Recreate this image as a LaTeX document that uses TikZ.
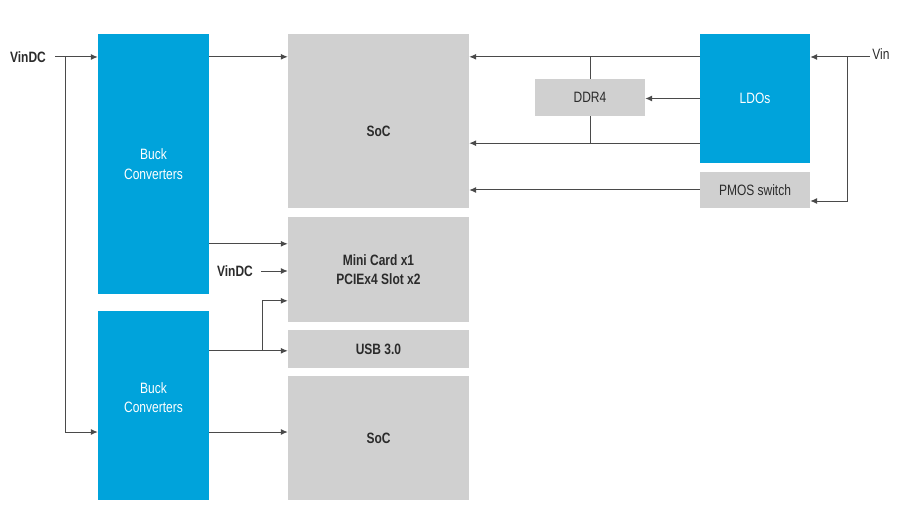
\documentclass[tikz,border=0pt]{standalone}
\usepackage{fontspec}
\setmainfont{Liberation Sans}[FakeStretch=0.8]
\usetikzlibrary{arrows.meta}
\definecolor{buckblue}{HTML}{00A3DB}
\definecolor{boxgray}{HTML}{D0D0D0}
\definecolor{wiregray}{HTML}{4A4A4A}
\definecolor{inkgray}{HTML}{2B2B2B}
\tikzset{
  bluebox/.style={rectangle, fill=buckblue, text=white, align=center, inner sep=0pt},
  graybox/.style={rectangle, fill=boxgray, text=inkgray, align=center, inner sep=0pt},
  sig/.style={inkgray, inner sep=2pt}
}
\begin{document}
\begin{tikzpicture}[x=1pt, y=-1pt, >={Latex[length=7pt,width=6pt]},
   every node/.style={font=\fontsize{15}{19.5}\selectfont},
   wire/.style={draw=wiregray, line width=1pt}
   ]
   \useasboundingbox (0,0) rectangle (900,532);

   % power stages
   \path (153.5,164) node[bluebox, minimum width=111pt, minimum height=260pt] (buckA) {Buck\\Converters}
   (153.5,405.5) node[bluebox, minimum width=111pt, minimum height=189pt,
      label={[text=white, align=center, yshift=8pt]center:Buck\\Converters}] (buckB) {};
   \path (755,98.5) node[bluebox, minimum width=110pt, minimum height=129pt] (ldo) {LDOs}
   (755,190) node[graybox, minimum width=110pt, minimum height=36pt] (pmos) {PMOS switch};

   % loads
   \path (378.5,121) node[graybox, minimum width=181pt, minimum height=174pt,
      label={[text=inkgray, yshift=-10pt, font=\fontsize{15}{19.5}\selectfont\bfseries]center:SoC}] (socA) {}
   (378.5,269.5) node[graybox, minimum width=181pt, minimum height=105pt, font=\fontsize{15}{19.5}\selectfont\bfseries] (mini) {Mini Card x1\\PCIEx4 Slot x2}
   (378.5,349) node[graybox, minimum width=181pt, minimum height=38pt, font=\fontsize{15}{19.5}\selectfont\bfseries] (usb) {USB 3.0}
   (378.5,438) node[graybox, minimum width=181pt, minimum height=124pt, font=\fontsize{15}{19.5}\selectfont\bfseries] (socB) {SoC};
   \path (590,97.5) node[graybox, minimum width=110pt, minimum height=37pt] (ddr) {DDR4};

   % inputs
   \path (28,57) node[sig, font=\fontsize{15}{19.5}\selectfont\bfseries] (vindcA) {VinDC}
   (235,271) node[sig, font=\fontsize{15}{19.5}\selectfont\bfseries] (vindcB) {VinDC}
   (881,54) node[sig] (vin) {Vin};

   % left side
   \draw[wire, ->] ([xshift=7pt]vindcA.east) -- (vindcA -| buckA.west);
   \draw[wire, ->] ([xshift=17pt]vindcA.east) |- ([yshift=-26.5pt]buckB.west);
   \draw[wire, ->] ([yshift=-23pt]buckA.north east) coordinate (bA1) -- (bA1 -| socA.west);
   \draw[wire, ->] ([yshift=-210pt]buckA.north east) coordinate (bA2) -- (bA2 -| mini.west);
   \draw[wire, ->] ([xshift=6pt]vindcB.east) -- (vindcB -| mini.west);
   \draw[wire, ->] ([yshift=-40pt]buckB.north east) coordinate (bB1) -- (bB1 -| usb.west);
   \draw[wire, ->] ([xshift=53pt]bB1) |- ([yshift=-84pt]mini.north west);
   \draw[wire, ->] ([yshift=-26.5pt]buckB.east) coordinate (bB2) -- (bB2 -| socB.west);

   % right side
   \draw[wire, ->] ([yshift=-23pt]ldo.north west) coordinate (l1) -- (l1 -| socA.east);
   \draw[wire, ->] ([yshift=20pt]ldo.south west) coordinate (l2) -- (l2 -| socA.east);
   \draw[wire, ->] (ldo.west) -- (ldo.west -| ddr.east);
   \draw[wire] (ddr.north) -- (ddr.north |- l1);
   \draw[wire] (ddr.south) -- (ddr.south |- l2);
   \draw[wire, ->] (pmos.west) -- (pmos.west -| socA.east);
   \draw[wire, ->] ([yshift=-3pt]vin.west) coordinate (v1) -- (v1 -| ldo.east);
   \draw[wire, ->] ([xshift=-23pt]v1) |- ([yshift=-11pt]pmos.east);
\end{tikzpicture}
\end{document}
